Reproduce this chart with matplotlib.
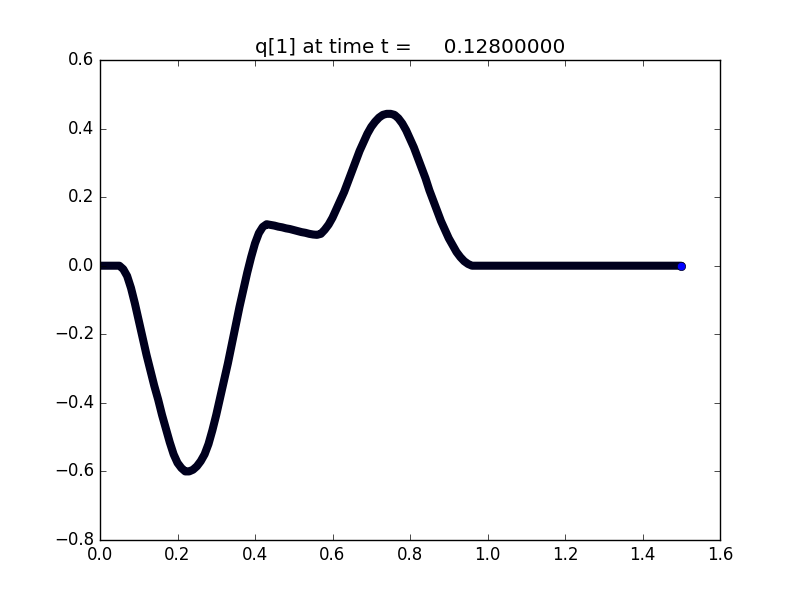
import numpy as np
import matplotlib
matplotlib.use("Agg")
import matplotlib.pyplot as plt

# ── Data ─────────────────────────────────────────────────────────────────────
TIME = 0.128
# cell centres where the solution is non-zero, step 0.01 from 0.05 to 0.96
x_active = np.round(np.arange(0.05, 0.965, 0.01), 2)
q_active = [
    0.0, -0.01, -0.03, -0.065, -0.11, -0.16, -0.21, -0.26, -0.305, -0.35,      # 0.05-0.14
    -0.39, -0.435, -0.475, -0.515, -0.55, -0.575, -0.59, -0.60, -0.60, -0.595, # 0.15-0.24
    -0.585, -0.57, -0.55, -0.52, -0.48, -0.435, -0.385, -0.335, -0.285, -0.23, # 0.25-0.34
    -0.175, -0.12, -0.07, -0.02, 0.025, 0.065, 0.095, 0.113, 0.121, 0.119,     # 0.35-0.44
    0.117, 0.114, 0.112, 0.109, 0.107, 0.104, 0.101, 0.098, 0.096, 0.093,      # 0.45-0.54
    0.091, 0.09, 0.093, 0.105, 0.12, 0.14, 0.165, 0.19, 0.215, 0.245,          # 0.55-0.64
    0.275, 0.305, 0.335, 0.36, 0.385, 0.405, 0.42, 0.432, 0.44, 0.443,         # 0.65-0.74
    0.443, 0.44, 0.43, 0.415, 0.395, 0.37, 0.345, 0.315, 0.285, 0.255,         # 0.75-0.84
    0.22, 0.19, 0.16, 0.13, 0.105, 0.08, 0.06, 0.04, 0.025, 0.013,             # 0.85-0.94
    0.005, 0.0,                                                                # 0.95-0.96
]
# flat (zero) parts at both ends of the domain
x_head, q_head = [0.0], [0.0]
x_tail, q_tail = [1.5], [0.0]

x = np.concatenate([x_head, x_active, x_tail])
q = np.concatenate([q_head, q_active, q_tail])

XLIM = (0.0, 1.6)
YLIM = (-0.8, 0.6)
# ─────────────────────────────────────────────────────────────────────────────

plt.style.use("classic")
fig = plt.figure(figsize=(8, 6), dpi=100)
fig.patch.set_facecolor("white")
ax = fig.add_subplot(111)

# densely packed blue/black markers in the original merge into a thick dark band
ax.plot(x, q, "-", color="#00001e", lw=5.8,
        solid_joinstyle="round", solid_capstyle="round", zorder=2)
ax.plot(x[-1:], q[-1:], "o", mfc="b", mec="#00001e", ms=6, mew=0.5, zorder=3)

ax.set_xlim(*XLIM)
ax.set_ylim(*YLIM)
ax.set_title("q[1] at time t =     %10.8f" % TIME)

fig.savefig("out.png", dpi=100, facecolor="white")
